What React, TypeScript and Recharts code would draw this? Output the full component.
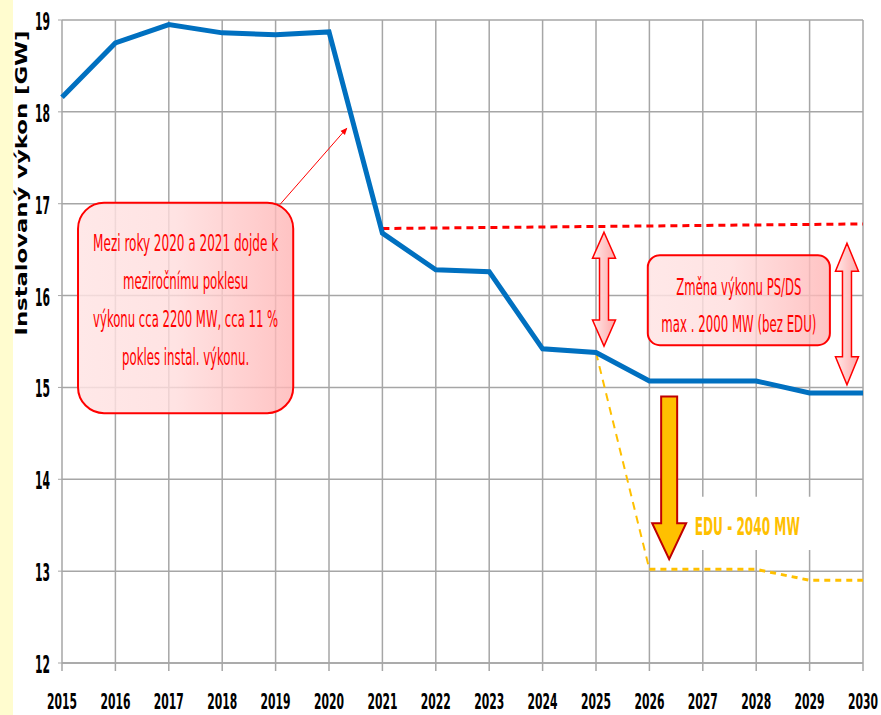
import { LineChart, Line, XAxis, YAxis, CartesianGrid } from 'recharts';

const years = [2015, 2016, 2017, 2018, 2019, 2020, 2021, 2022, 2023, 2024, 2025, 2026, 2027, 2028, 2029, 2030];
const installed = [18.16, 18.75, 18.95, 18.86, 18.84, 18.87, 16.68, 16.28, 16.26, 15.42, 15.38, 15.07, 15.07, 15.07, 14.94, 14.94];
const limitLine = [null, null, null, null, null, null, 16.73, null, null, null, null, null, null, null, null, 16.78];
const eduDrop = [null, null, null, null, null, null, null, null, null, null, 15.38, 13.02, null, null, null, null];
const eduAfter = [null, null, null, null, null, null, null, null, null, null, null, 13.02, 13.02, 13.02, 12.9, 12.9];
const yTicks = [12, 13, 14, 15, 16, 17, 18, 19];

const boxText1 = ['Mezi roky 2020 a 2021  dojde k', 'meziročnímu poklesu', 'výkonu cca 2200 MW, cca 11 %', 'pokles instal. výkonu.'];
const boxText2 = ['Změna výkonu PS/DS', 'max . 2000 MW (bez EDU)'];
const eduLabel = 'EDU - 2040 MW';
const yTitle = 'Instalovaný výkon [GW]';

const data = years.map((year, i) => ({
  year,
  installed: installed[i],
  limit: limitLine[i],
  eduDrop: eduDrop[i],
  eduAfter: eduAfter[i],
}));

// plot geometry, used to place the annotations in data coordinates
const W = 881;
const H = 715;
const M = { top: 20, right: 18, left: 0, bottom: 0 };
const Y_AXIS_W = 62;
const X_AXIS_H = 52;
const plotL = M.left + Y_AXIS_W;
const plotR = W - M.right;
const plotT = M.top;
const plotB = H - X_AXIS_H;
const xs = (yr: number) => plotL + ((yr - 2015) / 15) * (plotR - plotL);
const ys = (v: number) => plotT + ((19 - v) / 7) * (plotB - plotT);

const NARROW = '"Liberation Sans Narrow", "DejaVu Sans Condensed", "Liberation Sans", sans-serif';
const GRID = '#a6a6a6';

const XTick = ({ x, y, payload }: any) => (
  <text x={x} y={y + 38} textAnchor="middle" fontFamily={NARROW} fontWeight="bold" fontSize={22}
    textLength={30} lengthAdjust="spacingAndGlyphs" fill="#000">
    {payload.value}
  </text>
);

const YTick = ({ x, y, payload }: any) => (
  <text x={x - 8} y={y + 10} textAnchor="end" fontFamily={NARROW} fontWeight="bold" fontSize={24}
    textLength={15} lengthAdjust="spacingAndGlyphs" fill="#000">
    {payload.value}
  </text>
);

function doubleArrow(cx: number, t: number, b: number, hw: number, sw: number, hl: number) {
  return `M${cx},${t} L${cx + hw},${t + hl} L${cx + sw},${t + hl} L${cx + sw},${b - hl} L${cx + hw},${b - hl} L${cx},${b} L${cx - hw},${b - hl} L${cx - sw},${b - hl} L${cx - sw},${t + hl} L${cx - hw},${t + hl} Z`;
}

function downArrow(cx: number, t: number, b: number, hw: number, sw: number, hl: number) {
  return `M${cx - sw},${t} L${cx + sw},${t} L${cx + sw},${b - hl} L${cx + hw},${b - hl} L${cx},${b} L${cx - hw},${b - hl} L${cx - sw},${b - hl} Z`;
}

function Annotations() {
  const b1 = { x1: xs(2015.3), x2: xs(2019.33), y1: ys(17.01), y2: ys(14.72) };
  const b2 = { x1: xs(2025.97), x2: xs(2029.38), y1: ys(16.44), y2: ys(15.46) };
  const c1 = (b1.x1 + b1.x2) / 2;
  const c2 = (b2.x1 + b2.x2) / 2;
  const line1Y = [251, 289, 327, 365];
  const line1W = [185, 125, 185, 127];
  const line2Y = [295, 332];
  const line2W = [125, 155];
  return (
    <svg width={W} height={H} style={{ position: 'absolute', left: 0, top: 0, pointerEvents: 'none' }}>
      <defs>
        <linearGradient id="pinkBox" x1="0" y1="0" x2="1" y2="0">
          <stop offset="0" stopColor="#ffe4e4" stopOpacity={0.85} />
          <stop offset="0.45" stopColor="#ffdcdc" stopOpacity={0.8} />
          <stop offset="1" stopColor="#ffb4b4" stopOpacity={0.8} />
        </linearGradient>
        <linearGradient id="pinkArrow" x1="0" y1="0" x2="1" y2="0">
          <stop offset="0" stopColor="#ffe8e8" />
          <stop offset="1" stopColor="#ffaaaa" />
        </linearGradient>
        <marker id="head" markerWidth="8" markerHeight="8" refX="6" refY="4" orient="auto">
          <path d="M0,1 L7,4 L0,7 Z" fill="#ff0000" />
        </marker>
      </defs>

      <text transform="translate(27, 183) rotate(-90)" textAnchor="middle"
        fontFamily='"DejaVu Sans", sans-serif' fontWeight="bold" fontSize={15} fill="#000"
        textLength={305} lengthAdjust="spacingAndGlyphs">
        {yTitle}
      </text>

      <line x1={xs(2019.08)} y1={ys(16.99)} x2={xs(2020.33)} y2={ys(17.82)} stroke="#ff0000" strokeWidth={1} markerEnd="url(#head)" />
      <rect x={b1.x1} y={b1.y1} width={b1.x2 - b1.x1} height={b1.y2 - b1.y1} rx={26} ry={26}
        fill="url(#pinkBox)" stroke="#ff0000" strokeWidth={2} />
      {boxText1.map((t, i) => (
        <text key={t} x={c1} y={line1Y[i]} textAnchor="middle" fontFamily={NARROW} fontSize={23}
          fill="#ff0000" textLength={line1W[i]} lengthAdjust="spacingAndGlyphs">{t}</text>
      ))}

      <rect x={b2.x1} y={b2.y1} width={b2.x2 - b2.x1} height={b2.y2 - b2.y1} rx={12} ry={12}
        fill="url(#pinkBox)" stroke="#ff0000" strokeWidth={2} />
      {boxText2.map((t, i) => (
        <text key={t} x={c2} y={line2Y[i]} textAnchor="middle" fontFamily={NARROW} fontSize={23}
          fill="#ff0000" textLength={line2W[i]} lengthAdjust="spacingAndGlyphs">{t}</text>
      ))}

      <path d={doubleArrow(xs(2025.15), ys(16.69), ys(15.45), 11.5, 4.5, 26)} fill="url(#pinkArrow)" stroke="#ff0000" strokeWidth={1.5} />
      <path d={doubleArrow(xs(2029.7), ys(16.57), ys(15.03), 11.5, 4.5, 28)} fill="url(#pinkArrow)" stroke="#ff0000" strokeWidth={1.5} />

      <path d={downArrow(xs(2026.37), ys(14.9), ys(13.13), 17, 8, 36)} fill="#ffc000" stroke="#c00000" strokeWidth={2} />

      <rect x={xs(2026.76)} y={ys(13.81)} width={xs(2029.1) - xs(2026.76)} height={ys(13.23) - ys(13.81)} fill="#fff" />
      <text x={xs(2026.85)} y={ys(13.39)} fontFamily={NARROW} fontWeight="bold" fontSize={25} fill="#ffc000"
        textLength={105} lengthAdjust="spacingAndGlyphs">{eduLabel}</text>
    </svg>
  );
}

export default function App() {
  return (
    <div style={{ position: 'absolute', left: 0, top: 0, width: W, height: H, background: 'linear-gradient(to right, #fffccf 0px, #fffccf 13px, #ffffff 13px)' }}>
      <LineChart width={W} height={H} data={data} margin={M}>
        <CartesianGrid stroke={GRID} strokeWidth={1.5} />
        <XAxis dataKey="year" type="number" domain={[2015, 2030]} ticks={years} height={X_AXIS_H}
          stroke={GRID} strokeWidth={1.5} tickSize={8} tickMargin={0} tick={<XTick />} interval={0} />
        <YAxis type="number" domain={[12, 19]} ticks={yTicks} width={Y_AXIS_W} axisLine={false}
          stroke={GRID} tickSize={4} tickMargin={0} tick={<YTick />} interval={0} />
        <Line dataKey="limit" stroke="#ff0000" strokeWidth={3} strokeDasharray="7 5" dot={false} connectNulls isAnimationActive={false} />
        <Line dataKey="eduDrop" stroke="#ffc000" strokeWidth={2} strokeDasharray="8 6" dot={false} isAnimationActive={false} />
        <Line dataKey="eduAfter" stroke="#ffc000" strokeWidth={3} strokeDasharray="6 5" dot={false} isAnimationActive={false} />
        <Line dataKey="installed" stroke="#0070c0" strokeWidth={5} dot={false} isAnimationActive={false} />
      </LineChart>
      <Annotations />
    </div>
  );
}
